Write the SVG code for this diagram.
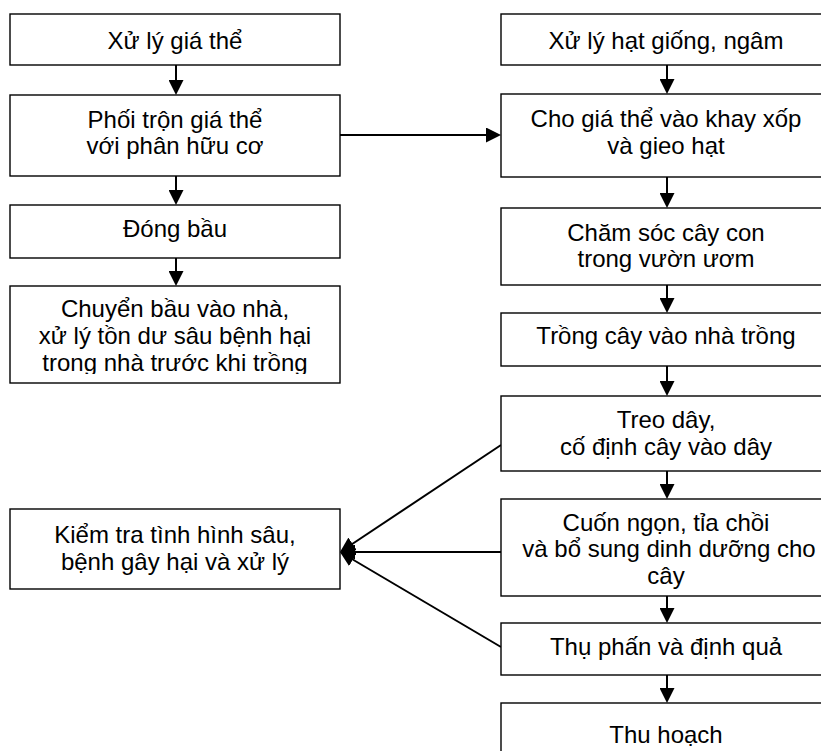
<svg xmlns="http://www.w3.org/2000/svg" width="821" height="751" viewBox="0 0 821 751">
<style>
.box{fill:#fff;stroke:#000;stroke-width:1.4}
.t{font-family:"Liberation Sans",Arial,sans-serif;font-size:24px;fill:#000;text-anchor:middle}
.c{stroke:#000;stroke-width:2;fill:none}
</style>
<defs>
<marker id="ah" markerUnits="userSpaceOnUse" markerWidth="15" markerHeight="15" refX="13" refY="7.5" orient="auto">
<path d="M0,0 L15,7.5 L0,15 Z" fill="#000"/>
</marker>
<clipPath id="clip4"><rect x="10" y="286" width="330" height="88"/></clipPath>
</defs>
<rect width="821" height="751" fill="#fff"/>
<g id="connectors">
<line class="c" x1="176" y1="65" x2="176" y2="93" marker-end="url(#ah)"/>
<line class="c" x1="176" y1="176" x2="176" y2="203" marker-end="url(#ah)"/>
<line class="c" x1="176" y1="258" x2="176" y2="284" marker-end="url(#ah)"/>
<line class="c" x1="340" y1="135" x2="499" y2="135" marker-end="url(#ah)"/>
<line class="c" x1="667" y1="65" x2="667" y2="92" marker-end="url(#ah)"/>
<line class="c" x1="667" y1="177" x2="667" y2="206" marker-end="url(#ah)"/>
<line class="c" x1="667" y1="285" x2="667" y2="311" marker-end="url(#ah)"/>
<line class="c" x1="667" y1="366" x2="667" y2="394" marker-end="url(#ah)"/>
<line class="c" x1="667" y1="471" x2="667" y2="497" marker-end="url(#ah)"/>
<line class="c" x1="667" y1="596" x2="667" y2="621" marker-end="url(#ah)"/>
<line class="c" x1="667" y1="675" x2="667" y2="701" marker-end="url(#ah)"/>
<line class="c" x1="501" y1="445" x2="341.7" y2="551" marker-end="url(#ah)"/>
<line class="c" x1="501" y1="552" x2="342" y2="552" marker-end="url(#ah)"/>
<line class="c" x1="501" y1="647" x2="341.7" y2="553" marker-end="url(#ah)"/>
</g>
<g id="n1"><rect class="box" x="10" y="14" width="330" height="51"/><text class="t" x="175" y="49">Xử lý giá thể</text></g>
<g id="n2"><rect class="box" x="10" y="95" width="330" height="81"/><text class="t" x="175" y="128">Phối trộn giá thể</text><text class="t" x="175" y="154">với phân hữu cơ</text></g>
<g id="n3"><rect class="box" x="10" y="205" width="330" height="53"/><text class="t" x="175" y="237">Đóng bầu</text></g>
<g id="n4"><rect class="box" x="10" y="286" width="330" height="97"/><g clip-path="url(#clip4)"><text class="t" x="175" y="317">Chuyển bầu vào nhà,</text><text class="t" x="175" y="344">xử lý tồn dư sâu bệnh hại</text><text class="t" x="175" y="371">trong nhà trước khi trồng</text></g></g>
<g id="n5"><rect class="box" x="10" y="509" width="330" height="80"/><text class="t" x="175" y="543">Kiểm tra tình hình sâu,</text><text class="t" x="175" y="570">bệnh gây hại và xử lý</text></g>
<g id="r1"><rect class="box" x="501" y="14" width="330" height="51"/><text class="t" x="666" y="49">Xử lý hạt giống, ngâm</text></g>
<g id="r2"><rect class="box" x="501" y="94" width="330" height="83"/><text class="t" x="666" y="127">Cho giá thể vào khay xốp</text><text class="t" x="666" y="154">và gieo hạt</text></g>
<g id="r3"><rect class="box" x="501" y="208" width="330" height="77"/><text class="t" x="666" y="241">Chăm sóc cây con</text><text class="t" x="666" y="267">trong vườn ươm</text></g>
<g id="r4"><rect class="box" x="501" y="313" width="330" height="53"/><text class="t" x="666" y="344">Trồng cây vào nhà trồng</text></g>
<g id="r5"><rect class="box" x="501" y="396" width="330" height="75"/><text class="t" x="666" y="428">Treo dây,</text><text class="t" x="666" y="455">cố định cây vào dây</text></g>
<g id="r6"><rect class="box" x="501" y="499" width="330" height="97"/><text class="t" x="666" y="531">Cuốn ngọn, tỉa chồi</text><text class="t" x="669" y="557">và bổ sung dinh dưỡng cho</text><text class="t" x="666" y="584">cây</text></g>
<g id="r7"><rect class="box" x="501" y="623" width="330" height="52"/><text class="t" x="666" y="655">Thụ phấn và định quả</text></g>
<g id="r8"><rect class="box" x="501" y="703" width="330" height="80"/><text class="t" x="666" y="743">Thu hoạch</text></g>
</svg>
